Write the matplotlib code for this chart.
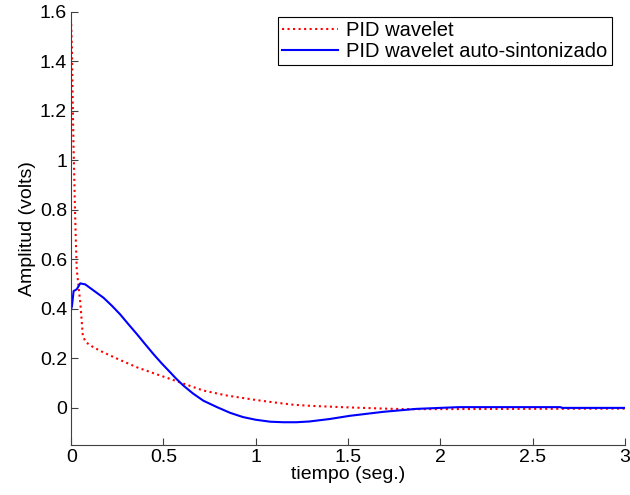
import matplotlib.pyplot as plt

plt.rcParams["font.family"] = ["Liberation Sans", "DejaVu Sans"]

# PID wavelet (rojo punteado)
t_pid = [0.0, 0.004, 0.008, 0.012, 0.016, 0.02, 0.025, 0.03, 0.04, 0.049, 0.056, 0.063,
         0.08, 0.12, 0.175, 0.26, 0.356, 0.45, 0.536, 0.62, 0.716, 0.843, 1.0, 1.1, 1.2, 1.3,
         1.5, 1.7, 1.8, 2.0, 2.5, 3.0]
y_pid = [1.55, 1.45, 1.25, 1.08, 0.95, 0.82, 0.68, 0.56, 0.49, 0.427, 0.36, 0.29,
         0.265, 0.245, 0.224, 0.195, 0.164, 0.139, 0.117, 0.095, 0.07, 0.05, 0.032, 0.022, 0.013, 0.008,
         0.002, -0.003, -0.005, -0.005, -0.004, -0.003]

# PID wavelet auto-sintonizado (azul)
t_auto = [0.0, 0.004, 0.013, 0.03, 0.049, 0.076, 0.12, 0.175, 0.22, 0.265, 0.31, 0.356,
          0.4, 0.446, 0.49, 0.536, 0.57, 0.608, 0.66, 0.716, 0.79, 0.861, 0.93, 1.0, 1.08, 1.15, 1.22,
          1.29, 1.4, 1.51, 1.6, 1.69, 1.78, 1.87, 2.0, 2.1,
          2.65, 2.66, 3.0]
y_auto = [0.40, 0.41, 0.472, 0.479, 0.503, 0.499, 0.475, 0.445, 0.413, 0.378, 0.338, 0.298,
          0.258, 0.217, 0.18, 0.144, 0.117, 0.09, 0.058, 0.029, 0.003, -0.02, -0.037, -0.048, -0.056, -0.058, -0.058,
          -0.055, -0.045, -0.032, -0.024, -0.016, -0.01, -0.004, 0.0, 0.003,
          0.003, 0.0, 0.0]

fig = plt.figure(figsize=(6.3, 4.95), dpi=100)
ax = fig.add_axes([0.113, 0.101, 0.879, 0.875])

ax.plot(t_pid, y_pid, color="red", linestyle=":", linewidth=1.5, label="PID wavelet")
ax.plot(t_auto, y_auto, color="blue", linestyle="-", linewidth=1.5, label="PID wavelet auto-sintonizado")

ax.set_xlim(0, 3)
ax.set_ylim(-0.15, 1.6)
ax.set_xticks([0, 0.5, 1, 1.5, 2, 2.5, 3])
ax.set_xticklabels(["0", "0.5", "1", "1.5", "2", "2.5", "3"])
ax.set_yticks([0, 0.2, 0.4, 0.6, 0.8, 1, 1.2, 1.4, 1.6])
ax.set_yticklabels(["0", "0.2", "0.4", "0.6", "0.8", "1", "1.2", "1.4", "1.6"])

for s in ["top", "right"]:
    ax.spines[s].set_visible(False)
for s in ["left", "bottom"]:
    ax.spines[s].set_color("#404040")
    ax.spines[s].set_linewidth(0.8)
ax.tick_params(direction="in", length=5, width=0.8, color="#404040", labelsize=14, pad=3)

ax.set_xlabel("tiempo (seg.)", fontsize=14, labelpad=0)
ax.set_ylabel("Amplitud (volts)", fontsize=14, labelpad=3)

leg = ax.legend(loc="upper right", bbox_to_anchor=(0.976, 0.988), fontsize=14.5,
                fancybox=False, framealpha=1, edgecolor="black",
                borderpad=0.2, labelspacing=0.1, handlelength=2.8, handletextpad=0.4,
                borderaxespad=0)
leg.get_frame().set_linewidth(0.8)

fig.savefig("out.png", dpi=100)
